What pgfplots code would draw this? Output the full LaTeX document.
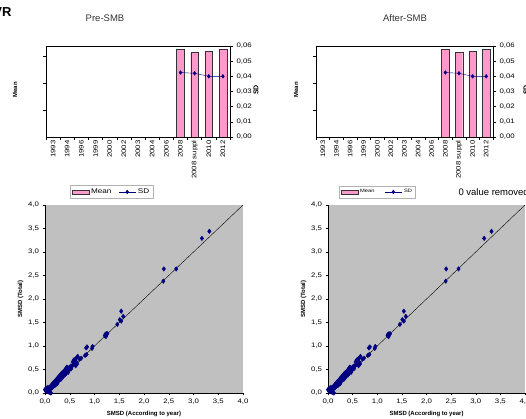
\documentclass[border=0pt]{standalone}
\usepackage{fontspec}
\setmainfont{Liberation Sans}
\newfontfamily\sfont[FakeStretch=1.2]{Liberation Sans}
\usepackage{pgfplots}
\pgfplotsset{compat=1.18}
\usepackage{pgfplotstable}
\definecolor{pinkbar}{RGB}{255,153,204}
\definecolor{navy}{RGB}{0,0,128}
\definecolor{plotgray}{RGB}{192,192,192}

\pgfplotstableread{
x y
3.32 3.44
3.17 3.29
2.40 2.64
2.65 2.64
2.39 2.38
1.54 1.74
1.58 1.63
1.51 1.56
1.54 1.53
1.46 1.46
1.21 1.22
1.22 1.25
1.24 1.26
1.26 1.26
1.23 1.20
0.83 0.96
0.85 0.98
0.95 0.95
0.96 0.99
0.81 0.80
0.84 0.82
0.66 0.78
0.63 0.74
0.61 0.72
0.58 0.70
0.56 0.66
0.70 0.72
0.73 0.74
0.65 0.62
0.64 0.65
0.52 0.57
0.50 0.55
0.48 0.52
0.46 0.54
0.44 0.55
0.42 0.52
0.45 0.46
0.43 0.42
0.40 0.48
0.38 0.46
0.36 0.44
0.34 0.42
0.40 0.38
0.37 0.36
0.35 0.33
0.32 0.40
0.30 0.37
0.28 0.35
0.33 0.30
0.30 0.28
0.27 0.25
0.26 0.32
0.24 0.30
0.22 0.27
0.25 0.20
0.22 0.18
0.20 0.25
0.18 0.23
0.16 0.20
0.20 0.16
0.17 0.14
0.14 0.18
0.12 0.15
0.14 0.11
0.10 0.13
0.08 0.10
0.11 0.08
0.06 0.08
0.04 0.06
0.02 0.04
0.01 0.08
0.00 0.07
0.03 0.10
0.06 0.12
0.08 0.02
0.10 0.01
0.12 0.00
0.05 0.03
0.07 0.05
0.42 0.41
0.47 0.44
0.50 0.50
0.53 0.52
0.55 0.58
0.57 0.60
0.60 0.62
0.62 0.58
}\scatterdata

\pgfplotsset{
  tickfont/.style={/pgf/number format/assume math mode=true,
    tick label style={font=\sfont\fontsize{6.5}{7}\selectfont}},
  barbase/.style={anchor=south west, scale only axis, height=91pt,
    xmin=-0.5, xmax=12.5, ymin=0, ymax=0.06, tickfont, scaled y ticks=false},
  barleft/.style={barbase,
    xtick={-0.5,0.5,...,12.5}, xticklabels={},
    extra x ticks={0,1,...,12},
    extra x tick labels={1993,1994,1996,1999,2000,2002,2003,2004,2006,2008,2008 suppl,2010,2012},
    extra x tick style={major tick length=0pt,
      tick label style={rotate=90, anchor=east, font=\sfont\fontsize{6.5}{7}\selectfont}},
    ytick={0.0178,0.0356,0.0534}, yticklabels={},
    xtick pos=bottom, ytick pos=left, tick align=outside, major tick length=3pt,
    tick style={black, thin}, axis line style={black, thin}},
  barright/.style={barbase, axis x line=none, axis y line*=right,
    ytick={0,0.01,0.02,0.03,0.04,0.05,0.06},
    yticklabel style={/pgf/number format/.cd, fixed, fixed zerofill, precision=2, use comma},
    tick align=outside, major tick length=3pt, tick style={black, thin},
    legend columns=2},
  scat/.style={anchor=south west, scale only axis, height=188pt,
    xmin=0, xmax=4, ymin=0, ymax=4, tickfont,
    axis background/.style={fill=plotgray},
    axis x line*=bottom, axis y line*=left,
    xtick={0,0.5,...,4}, ytick={0,0.5,...,4},
    tick align=outside, major tick length=2.5pt, tick style={black, thin},
    ticklabel style={/pgf/number format/.cd, fixed, fixed zerofill, precision=1, use comma},
    xlabel={SMSD (According to year)}, ylabel={SMSD (Total)},
    label style={font=\bfseries\fontsize{6}{7}\selectfont},
    xlabel style={yshift=0pt}, ylabel style={yshift=-2pt}},
}

\begin{document}
\begin{tikzpicture}
\path[use as bounding box] (0pt,0pt) rectangle (526pt,419pt);

% ---------- top-left ----------
\begin{axis}[barleft, at={(46pt,282pt)}, width=184pt]
\addplot[ybar, bar width=0.55, fill=pinkbar, draw=black!80] coordinates {(9,0.0578) (10,0.0556) (11,0.0563) (12,0.0578)};
\end{axis}
\begin{axis}[barright, at={(46pt,282pt)}, width=184pt,
  legend style={at={(0.356,-0.604)}, anchor=center, draw=gray!60,
    font=\sfont\fontsize{6.8}{7}\selectfont, inner sep=1.4pt,
    /tikz/every even column/.append style={column sep=5pt}}]
\addlegendimage{legend image code/.code={\draw[fill=pinkbar,draw=black!80] (0pt,-1.8pt) rectangle (17pt,1.8pt);}}
\addlegendentry{Mean}
\addplot[navy, mark=diamond*, mark size=1.9pt] coordinates {(9,0.0425) (10,0.0420) (11,0.0400) (12,0.0400)};
\addlegendentry{SD}
\end{axis}

% ---------- top-right ----------
\begin{axis}[barleft, at={(316pt,282pt)}, width=177pt]
\addplot[ybar, bar width=0.55, fill=pinkbar, draw=black!80] coordinates {(9,0.0578) (10,0.0556) (11,0.0563) (12,0.0578)};
\end{axis}
\begin{axis}[barright, at={(316pt,282pt)}, width=177pt,
  legend style={at={(0.347,-0.604)}, anchor=center, draw=gray!60,
    font=\sfont\fontsize{4.8}{5}\selectfont, inner sep=1.4pt,
    /tikz/every even column/.append style={column sep=8pt}}]
\addlegendimage{legend image code/.code={\draw[fill=pinkbar,draw=black!80] (0pt,-1.8pt) rectangle (17pt,1.8pt);}}
\addlegendentry{Mean}
\addplot[navy, mark=diamond*, mark size=1.9pt] coordinates {(9,0.0425) (10,0.0420) (11,0.0400) (12,0.0400)};
\addlegendentry{SD}
\end{axis}

% ---------- bottom-left ----------
\begin{axis}[scat, at={(45pt,26pt)}, width=198pt]
\addplot[only marks, mark=diamond*, mark size=2.3pt, navy] table[x=x, y=y] {\scatterdata};
\addplot[black, thin] coordinates {(0,0) (4,4)};
\end{axis}

% ---------- bottom-right ----------
\begin{axis}[scat, at={(328pt,26pt)}, width=197pt]
\addplot[only marks, mark=diamond*, mark size=2.3pt, navy] table[x=x, y=y] {\scatterdata};
\addplot[black, thin] coordinates {(0,0) (4,4)};
\end{axis}

% ---------- texts ----------
\node[anchor=base east, font=\bfseries\fontsize{13}{14}\selectfont] at (15pt,402pt) {VR};
\node[font=\fontsize{9.5}{10}\selectfont, text=black!80] at (105pt,401pt) {Pre-SMB};
\node[font=\fontsize{9.5}{10}\selectfont, text=black!80] at (405pt,401pt) {After-SMB};
\node[rotate=90, font=\bfseries\fontsize{6}{7}\selectfont] at (15pt,329pt) {Mean};
\node[rotate=90, font=\bfseries\fontsize{6}{7}\selectfont] at (296pt,329pt) {Mean};
\node[rotate=90, font=\bfseries\fontsize{7}{8}\selectfont] at (256pt,329pt) {SD};
\node[rotate=90, font=\bfseries\fontsize{7}{8}\selectfont] at (526pt,329pt) {SD};
\node[anchor=west, font=\fontsize{9.5}{10}\selectfont] at (455pt,227pt) {0 value removed};
\end{tikzpicture}
\end{document}
